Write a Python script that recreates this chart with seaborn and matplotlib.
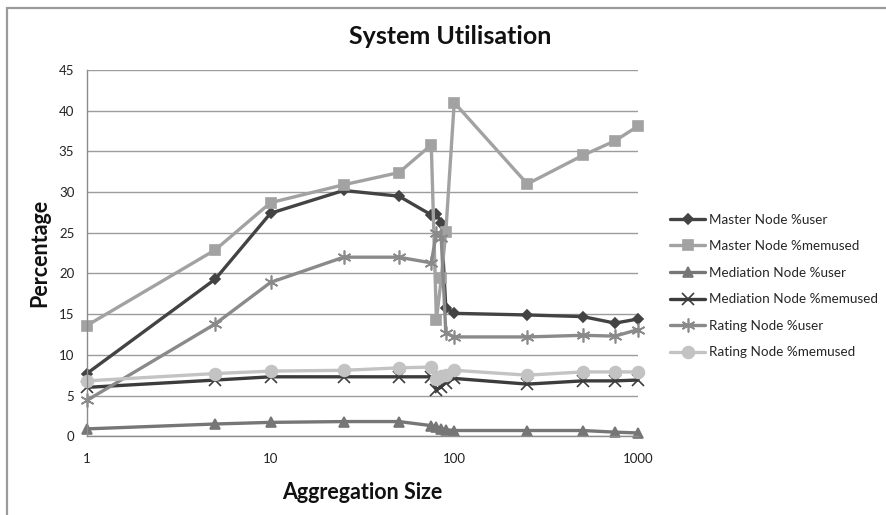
import numpy as np
import pandas as pd
import matplotlib
matplotlib.use("Agg")
import matplotlib.pyplot as plt
import seaborn as sns
from matplotlib.patches import Rectangle

# Aggregation sizes (log-scaled x axis)
agg_size = [1, 5, 10, 25, 50, 75, 80, 85, 90, 100, 250, 500, 750, 1000]

master_user = [7.7, 19.3, 27.4, 30.2, 29.5, 27.2, 27.3, 26.2, 15.8, 15.1, 14.9, 14.7, 13.9, 14.4]
master_mem = [13.6, 22.9, 28.7, 30.9, 32.4, 35.8, 14.3, 19.4, 25.1, 41.0, 31.0, 34.5, 36.3, 38.1]
mediation_user = [0.9, 1.5, 1.7, 1.8, 1.8, 1.3, 1.1, 0.9, 0.8, 0.7, 0.7, 0.7, 0.5, 0.4]
mediation_mem = [6.0, 6.9, 7.3, 7.3, 7.3, 7.3, 5.7, 6.1, 6.6, 7.1, 6.4, 6.8, 6.8, 6.9]
rating_user = [4.4, 13.8, 18.9, 22.0, 22.0, 21.3, 25.0, 24.3, 12.7, 12.2, 12.2, 12.4, 12.3, 13.1]
rating_mem = [6.8, 7.7, 8.0, 8.1, 8.4, 8.5, 7.0, 7.4, 7.5, 8.1, 7.5, 7.9, 7.9, 7.9]

series_names = [
    "Master Node %user",
    "Master Node %memused",
    "Mediation Node %user",
    "Mediation Node %memused",
    "Rating Node %user",
    "Rating Node %memused",
]
series_values = [master_user, master_mem, mediation_user, mediation_mem, rating_user, rating_mem]

y_ticks = [0, 5, 10, 15, 20, 25, 30, 35, 40, 45]
x_ticks = [1, 10, 100, 1000]
x_tick_labels = ["1", "10", "100", "1000"]

colors = {
    "Master Node %user": "#434343",
    "Master Node %memused": "#a2a2a2",
    "Mediation Node %user": "#767676",
    "Mediation Node %memused": "#3c3c3c",
    "Rating Node %user": "#8a8a8a",
    "Rating Node %memused": "#c3c3c3",
}
markers = {
    "Master Node %user": "D",
    "Master Node %memused": "s",
    "Mediation Node %user": "^",
    "Mediation Node %memused": "x",
    "Rating Node %user": (6, 2, 0),
    "Rating Node %memused": "o",
}
msizes = {
    "Master Node %user": 5.5,
    "Master Node %memused": 7.5,
    "Mediation Node %user": 7.5,
    "Mediation Node %memused": 8,
    "Rating Node %user": 10,
    "Rating Node %memused": 8.5,
}

df = pd.DataFrame({
    "size": np.tile(agg_size, len(series_names)),
    "value": np.concatenate(series_values),
    "series": np.repeat(series_names, len(agg_size)),
})

sns.set_style("white")
plt.rcParams["font.family"] = ["Lato", "DejaVu Sans"]

fig = plt.figure(figsize=(8.86, 5.15), dpi=100)
ax = fig.add_axes([0.098, 0.153, 0.622, 0.711])

# Outer chart frame
fig.patches.append(Rectangle((6.5 / 886, -0.1), 1.2, 1 - 7.5 / 515 + 0.1,
                             transform=fig.transFigure, fill=False,
                             edgecolor="#9a9a9a", linewidth=1.6, zorder=0))

handles = []
for name in series_names:
    sub = df[df["series"] == name]
    sns.lineplot(data=sub, x="size", y="value", ax=ax, color=colors[name],
                 marker=markers[name], markersize=msizes[name],
                 markeredgecolor=colors[name], markeredgewidth=1.2,
                 linewidth=2.4, errorbar=None, sort=False, legend=False,
                 clip_on=False)
    handles.append(ax.lines[-1])

ax.set_xscale("log")
ax.set_xlim(1, 1000)
ax.set_ylim(0, 45)
ax.set_xticks(x_ticks)
ax.set_xticklabels(x_tick_labels)
ax.xaxis.set_minor_locator(matplotlib.ticker.NullLocator())
ax.set_yticks(y_ticks)

ax.grid(axis="y", color="#9c9c9c", linewidth=1.0)
ax.grid(axis="x", visible=False)
ax.set_axisbelow(True)
for side in ["top", "right"]:
    ax.spines[side].set_visible(False)
for side in ["left", "bottom"]:
    ax.spines[side].set_color("#8c8c8c")
    ax.spines[side].set_linewidth(1.0)

ax.tick_params(axis="both", which="major", labelsize=9.5, colors="#8c8c8c",
               labelcolor="#222222", length=5, width=1.0, direction="out")
ax.tick_params(axis="x", pad=7)
ax.tick_params(axis="y", pad=4)

ax.set_xlabel("Aggregation Size", fontsize=15.5, fontweight="bold", color="#111111", labelpad=12)
ax.set_ylabel("Percentage", fontsize=15.5, fontweight="bold", color="#111111", labelpad=6)
fig.text(450 / 886, 1 - 37 / 515, "System Utilisation", fontsize=18, fontweight="bold",
         ha="center", va="center", color="#111111")

leg = ax.legend(handles, series_names, loc="center left",
                bbox_to_anchor=(665 / 886, 1 - 286 / 515), bbox_transform=fig.transFigure,
                frameon=False, fontsize=9.7, handlelength=2.6, labelspacing=1.08,
                handletextpad=0.3, borderaxespad=0)

fig.savefig("out.png", dpi=100)
